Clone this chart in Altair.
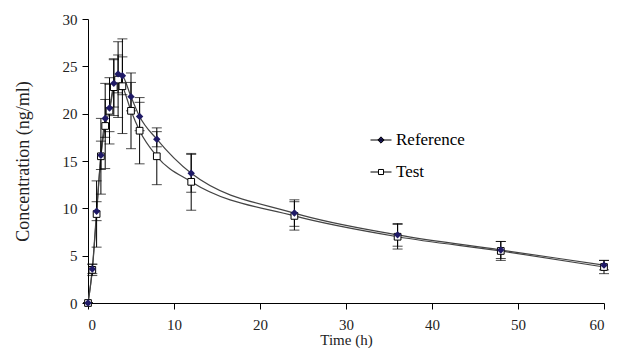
import altair as alt
import pandas as pd

# Data
times = [0, 0.5, 1, 1.5, 2, 2.5, 3, 3.5, 4, 5, 6, 8, 12, 24, 36, 48, 60]
ref_mean = [0, 3.6, 9.7, 15.6, 19.5, 20.6, 23.2, 24.2, 24.0, 21.8, 19.7, 17.3, 13.7, 9.5, 7.2, 5.6, 4.0]
ref_sd = [0, 0.5, 1.0, 1.5, 2.0, 2.5, 2.5, 2.0, 2.0, 1.5, 1.5, 0.8, 2.0, 1.4, 1.2, 0.9, 0.5]
test_mean = [0, 3.5, 9.4, 15.5, 18.7, 20.3, 22.8, 23.6, 22.9, 20.3, 18.2, 15.5, 12.8, 9.2, 7.0, 5.5, 3.8]
test_sd = [0, 0.6, 3.5, 4.0, 4.5, 3.5, 3.0, 4.0, 5.0, 4.0, 3.5, 3.0, 3.0, 1.5, 1.3, 1.0, 0.7]

series_names = ["Reference", "Test"]
x_ticks = [0, 10, 20, 30, 40, 50, 60]
y_ticks = [0, 5, 10, 15, 20, 25, 30]

rows = []
for name, means, sds in [("Reference", ref_mean, ref_sd), ("Test", test_mean, test_sd)]:
    for t, m, s in zip(times, means, sds):
        rows.append({"series": name, "t": t, "mean": m, "lo": m - s, "hi": m + s})
df = pd.DataFrame(rows)

NAVY = "#1f1a66"
SERIF = "Liberation Serif"

xs = alt.Scale(domain=[0, 60], nice=False)
ys = alt.Scale(domain=[0, 30], nice=False)

X = alt.X("t:Q", scale=xs, title="Time (h)",
          axis=alt.Axis(values=x_ticks, labelPadding=8, titlePadding=0,
                        titleFontSize=15))
Y = alt.Y("mean:Q", scale=ys, title="Concentration (ng/ml)",
          axis=alt.Axis(values=y_ticks, labelPadding=5, titlePadding=30,
                        titleFontSize=18))

base = alt.Chart(df)

lines = base.mark_line(interpolate="monotone", strokeWidth=1.2).encode(
    x=X, y=Y, detail="series:N",
    color=alt.value("#444444"),
)

err = base.mark_rule(color="black", strokeWidth=1).encode(
    x="t:Q", y="lo:Q", y2="hi:Q"
)
cap_lo = base.mark_tick(orient="horizontal", color="black", size=10, thickness=1).encode(
    x="t:Q", y="lo:Q"
)
cap_hi = base.mark_tick(orient="horizontal", color="black", size=10, thickness=1).encode(
    x="t:Q", y="hi:Q"
)

ref_pts = base.transform_filter(alt.datum.series == "Reference").mark_point(
    shape="diamond", filled=True, size=55, color=NAVY, opacity=1
).encode(x="t:Q", y="mean:Q")

test_pts = base.transform_filter(alt.datum.series == "Test").mark_point(
    shape="square", size=45, fill="white", stroke="black", strokeWidth=1, opacity=1
).encode(x="t:Q", y="mean:Q")

ref_path = "M-1,0L1,0M-0.3,0L0,-0.3L0.3,0L0,0.3Z"
test_path = "M-1,0L-0.24,0M0.24,0L1,0M-0.24,-0.24L0.24,-0.24L0.24,0.24L-0.24,0.24Z"

legend = alt.Legend(
    title=None, orient="none", legendX=282, legendY=110,
    labelFont=SERIF, labelFontSize=17, labelColor="black",
    symbolSize=441, symbolStrokeWidth=1, labelOffset=4, rowPadding=13,
)
legend_layer = base.transform_filter(alt.datum.t < -100).mark_point(
    size=441, strokeWidth=1, opacity=1
).encode(
    x="t:Q", y="mean:Q",
    shape=alt.Shape("series:N", scale=alt.Scale(domain=series_names, range=[ref_path, test_path]), legend=legend),
    fill=alt.Fill("series:N", scale=alt.Scale(domain=series_names, range=[NAVY, "white"]), legend=legend),
    stroke=alt.Stroke("series:N", scale=alt.Scale(domain=series_names, range=["black", "black"]), legend=legend),
)

chart = alt.layer(lines, err, cap_lo, cap_hi, test_pts, ref_pts, legend_layer).properties(
    width=516, height=284,
    autosize=alt.AutoSizeParams(type="none"),
    padding={"left": 80, "top": 11, "right": 8, "bottom": 45},
).configure_view(stroke=None).configure_axis(
    grid=False, domainColor="black", tickColor="black", tickSize=6,
    labelFont=SERIF, labelFontSize=15, labelColor="#222222",
    titleFont=SERIF, titleFontWeight="normal", titleColor="#222222",
)

chart.save("out.html", embed_options={"renderer": "svg", "actions": False})
